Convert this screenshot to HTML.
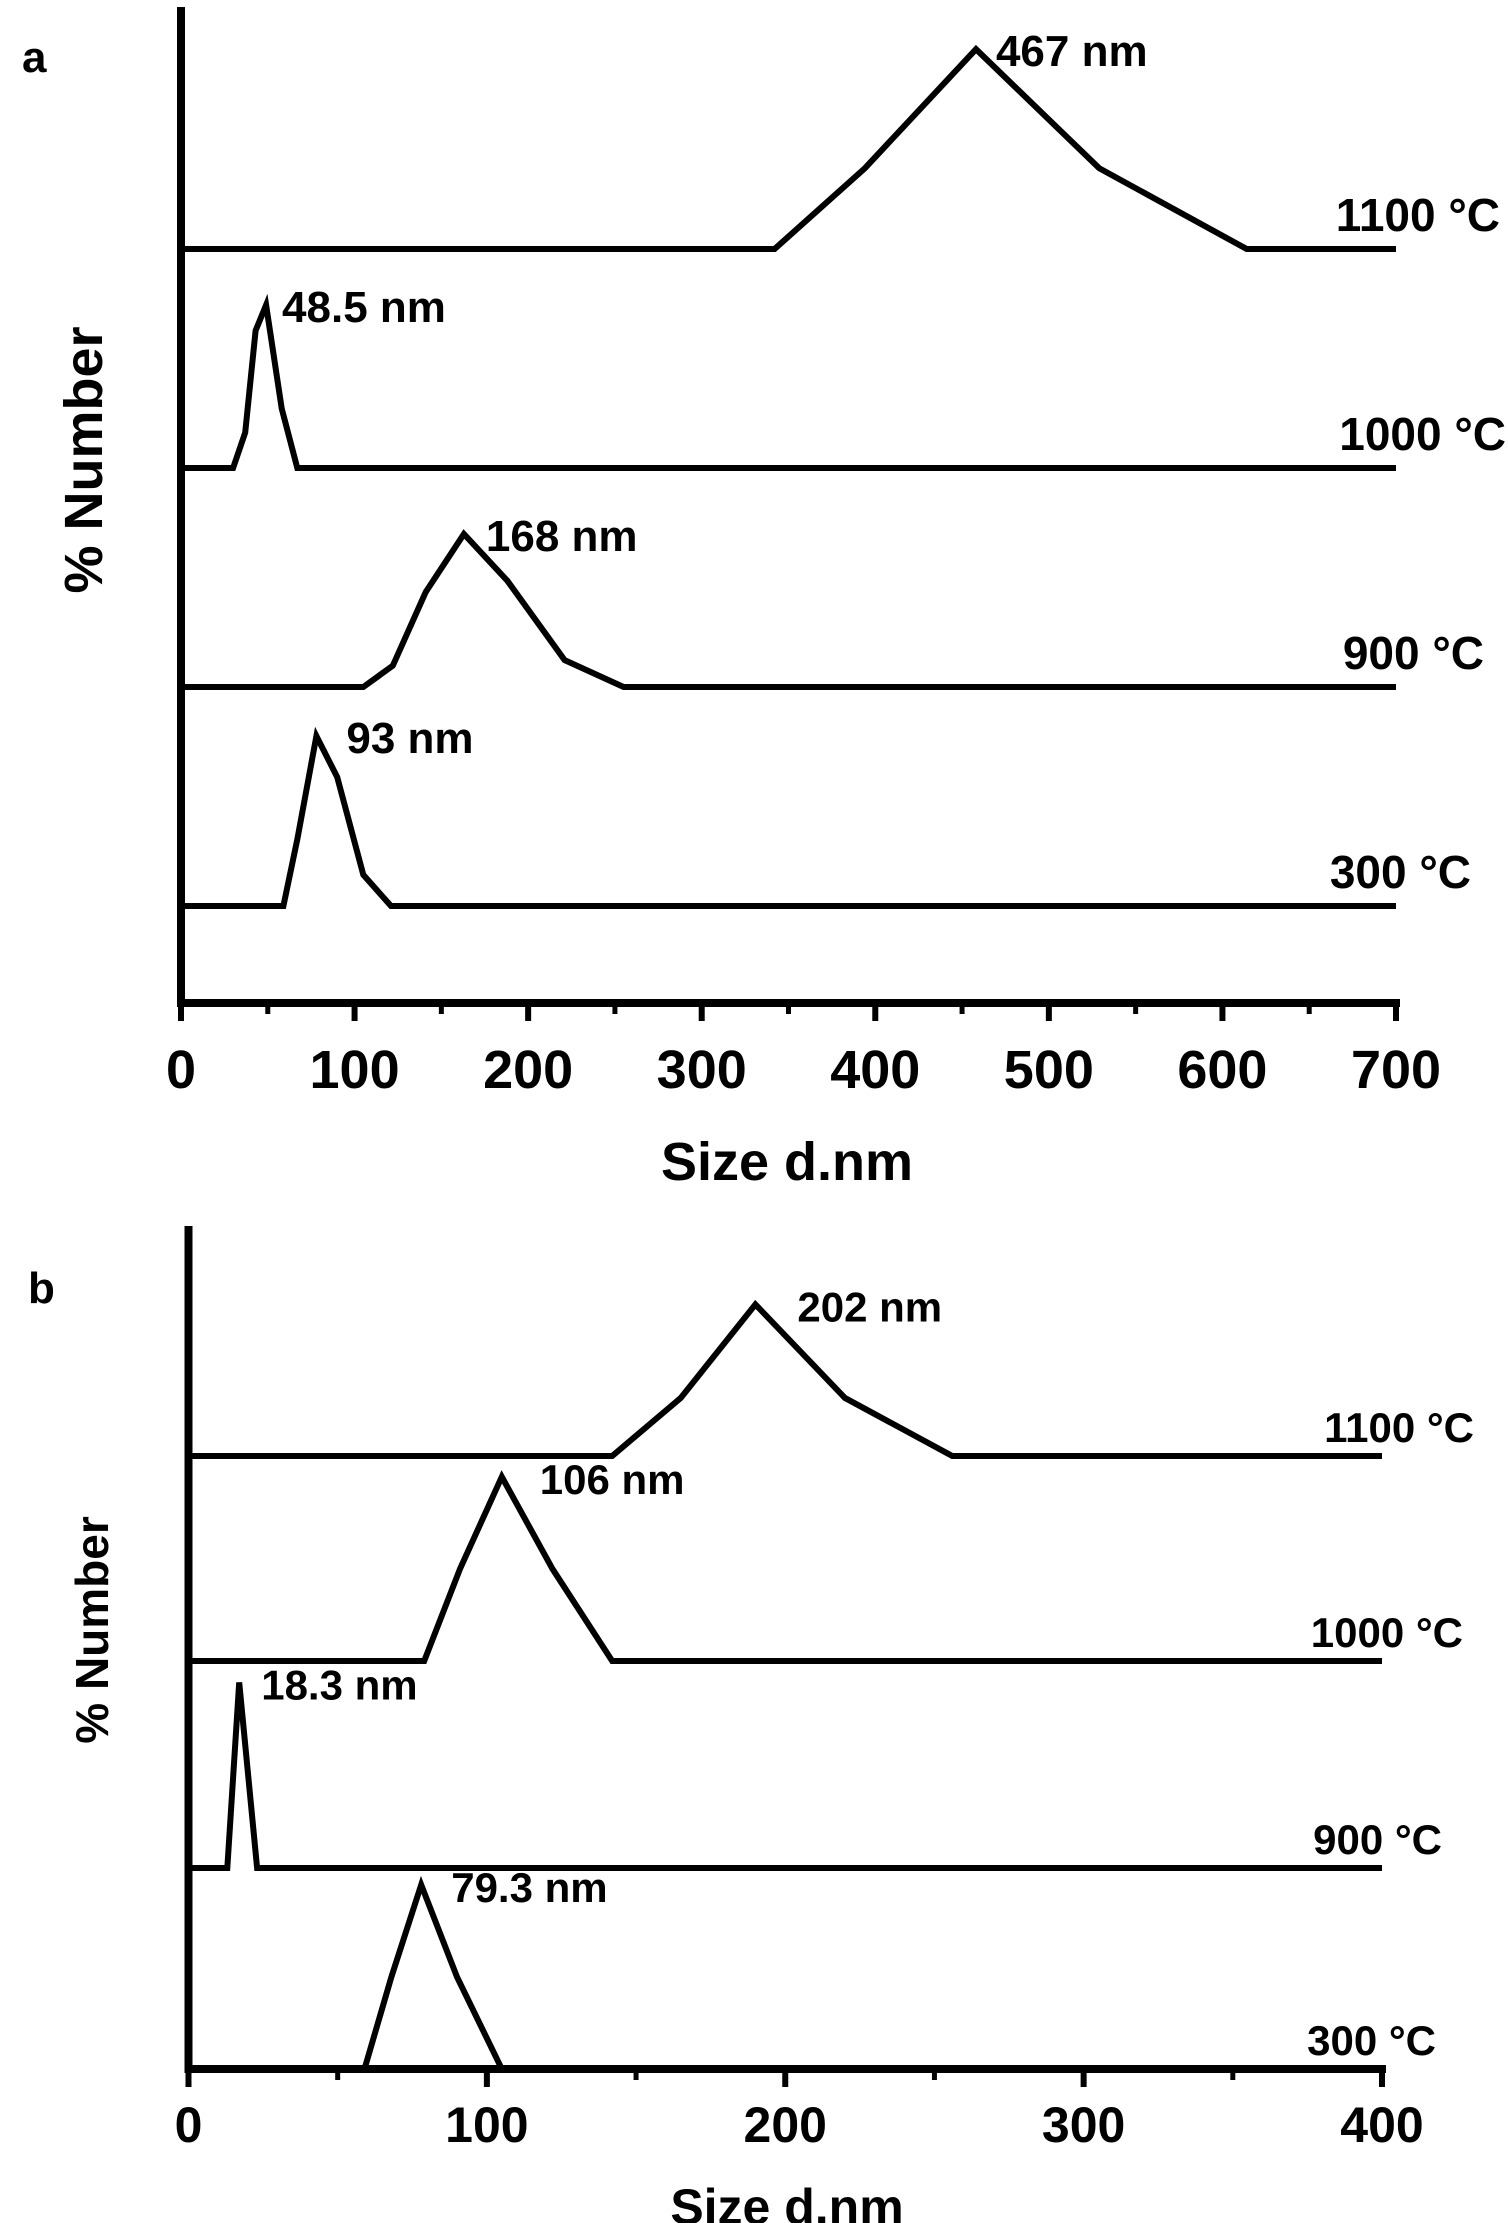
<!DOCTYPE html>
<html><head><meta charset="utf-8"><style>
html,body{margin:0;padding:0;background:#fff;}
svg{display:block;}
text{font-family:"Liberation Sans",Arial,sans-serif;font-weight:bold;fill:#000;}
</style></head><body>
<svg id="chart" width="1508" height="2223" viewBox="0 0 1508 2223"></svg>
<script>
// Panel a data
const aTicks = [0,100,200,300,400,500,600,700];
const aLabels = ["1100 °C","1000 °C","900 °C","300 °C"];
const aPeakLabels = ["467 nm","48.5 nm","168 nm","93 nm"];
const a1100x = [0,342,394,458,529,614,700];
const a1100y = [0,0,5.7,14.1,5.7,0,0];
const a1000x = [0,30,37,43,49,58,67,700];
const a1000y = [0,0,2.5,9.7,11.5,4.2,0,0];
const a900x = [0,105,122,141,163,188,221,255,700];
const a900y = [0,0,1.5,6.7,10.8,7.5,1.9,0,0];
const a300x = [0,59,67,78,90,105,121,700];
const a300y = [0,0,4.7,12.0,9.1,2.2,0,0];
// Panel b data
const bTicks = [0,100,200,300,400];
const bLabels = ["1100 °C","1000 °C","900 °C","300 °C"];
const bPeakLabels = ["202 nm","106 nm","18.3 nm","79.3 nm"];
const b1100x = [0,142,165,190,220,256,400];
const b1100y = [0,0,4.1,10.7,4.1,0,0];
const b1000x = [0,79,91,105,122,142,400];
const b1000y = [0,0,6.5,13.0,6.5,0,0];
const b900x = [0,13,17,23,400];
const b900y = [0,0,13.1,0,0];
const b300x = [59,68,78,90,105];
const b300y = [0,6.5,13.0,6.5,0];

const NS="http://www.w3.org/2000/svg";
const svg=document.getElementById('chart');
function mk(tag,attrs,parent){const e=document.createElementNS(NS,tag);for(const k in attrs)e.setAttribute(k,attrs[k]);(parent||svg).appendChild(e);return e;}
function txt(s,x,y,size,anchor,parent){const t=mk('text',{x:x,y:y,'font-size':size,'text-anchor':anchor||'start'},parent);t.textContent=s;return t;}

function panel(cfg){
  const g=mk('g',{});
  
  
  const X=v=>cfg.x0+(v-cfg.xmin)/(cfg.xmax-cfg.xmin)*(cfg.x1-cfg.x0);
  const ya=mk('line',{x1:cfg.x0,y1:cfg.top,x2:cfg.x0,y2:cfg.bottom+4,stroke:'#000','stroke-width':8},g);
  
  
  const xa=mk('line',{x1:cfg.x0-4,y1:cfg.bottom,x2:cfg.x1+4,y2:cfg.bottom,stroke:'#000','stroke-width':8},g);
  
  
  cfg.ticks.forEach((t,i)=>{
    const tk=mk('line',{x1:X(t),y1:cfg.bottom,x2:X(t),y2:cfg.bottom+18,stroke:'#000','stroke-width':6},g);
    
    
    if(i<cfg.ticks.length-1){
      const m=(t+cfg.ticks[i+1])/2;
      const mt=mk('line',{x1:X(m),y1:cfg.bottom,x2:X(m),y2:cfg.bottom+11,stroke:'#000','stroke-width':5},g);
      
      
    }
    const tl=txt(String(t),X(t),cfg.tickY,cfg.tickSize,'middle',g);
    
    
  });
  cfg.series.forEach((s,i)=>{
    const base=cfg.bases[i];
    const pts=s.x.map((v,j)=>X(v).toFixed(1)+','+(base-s.y[j]*cfg.pxPerUnit).toFixed(1)).join(' ');
    const p=mk('polyline',{points:pts,fill:'none',stroke:'#000','stroke-width':6,'stroke-linejoin':'miter'},g);
    
    
    const lt=txt(cfg.labels[i],cfg.labelEnd[i],base+cfg.labelDy,cfg.labelSize,'end',g);
    
    
    let pk=0;s.y.forEach((v,j)=>{if(v>s.y[pk])pk=j;});
    const pl=txt(cfg.peaks[i],X(s.x[pk])+cfg.peakDx[i],base-s.y[pk]*cfg.pxPerUnit+cfg.peakDy[i],cfg.peakSize,'start',g);
    
    
  });
  const xt=txt('Size d.nm',787,cfg.xTitleY,cfg.titleSize,'middle',g);
  
  
  const yt=txt('% Number',0,0,cfg.yTitleSize,'middle',g);
  yt.setAttribute('transform','translate('+cfg.yTitleX+','+cfg.yTitleCY+') rotate(-90)');
  
  
  const pl=txt(cfg.letter,cfg.letterX,cfg.letterY,44,'start',g);
  
  
}

panel({name:'panel-a',x0:181,x1:1396,xmin:0,xmax:700,top:7,bottom:1003,ticks:aTicks,tickY:1088,tickSize:54,
  series:[{x:a1100x,y:a1100y},{x:a1000x,y:a1000y},{x:a900x,y:a900y},{x:a300x,y:a300y}],
  bases:[249,468,687,906],pxPerUnit:14.17,labels:aLabels,labelEnd:[1500,1506,1484,1471],labelDy:-18,labelSize:46,
  peaks:aPeakLabels,peakDx:[20,16,22,30],peakDy:[17,17,17,17],peakSize:44,
  xTitleY:1180,titleSize:54,yTitleX:102,yTitleCY:460,yTitleSize:54,letter:'a',letterX:22,letterY:72});
panel({name:'panel-b',x0:188.5,x1:1382,xmin:0,xmax:400,top:1226,bottom:2069,ticks:bTicks,tickY:2142,tickSize:50,
  series:[{x:b1100x,y:b1100y},{x:b1000x,y:b1000y},{x:b900x,y:b900y},{x:b300x,y:b300y}],
  bases:[1456,1661,1868,2069],pxPerUnit:14.17,labels:bLabels,labelEnd:[1474,1463,1442,1436],labelDy:-14,labelSize:42,
  peaks:bPeakLabels,peakDx:[42,38,22,30],peakDy:[17,17,17,17],peakSize:42,
  xTitleY:2224,titleSize:50,yTitleX:108,yTitleCY:1630,yTitleSize:46,letter:'b',letterX:28,letterY:1303});
</script>
</body></html>
